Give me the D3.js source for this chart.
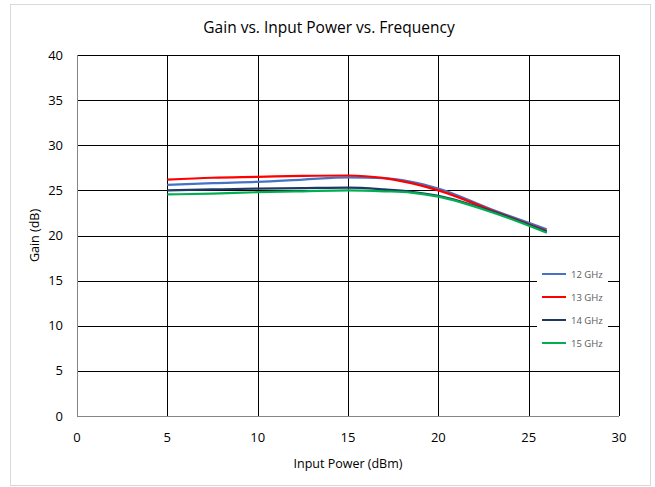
<!DOCTYPE html>
<html>
<head>
<meta charset="utf-8">
<script src="https://cdn.jsdelivr.net/npm/d3@7/dist/d3.min.js"></script>
<style>
  body { margin: 0; background: #fff; }
  text { font-family: "Open Sans", sans-serif; }
</style>
</head>
<body>
<svg id="chart" width="655" height="487"></svg>
<script>
// data
const inputPower = [5, 7.5, 10, 12.5, 15, 17, 18.5, 20, 23, 26];
const gain12 = [25.6, 25.8, 25.95, 26.2, 26.45, 26.35, 25.95, 25.2, 22.85, 20.7];
const gain13 = [26.2, 26.4, 26.5, 26.6, 26.65, 26.35, 25.8, 25.0, 22.75, 20.5];
const gain14 = [25.0, 25.1, 25.2, 25.25, 25.3, 25.1, 24.85, 24.4, 22.65, 20.4];
const gain15 = [24.55, 24.65, 24.8, 24.9, 25.0, 24.9, 24.75, 24.3, 22.55, 20.3];
const seriesNames = ["12 GHz", "13 GHz", "14 GHz", "15 GHz"];
const seriesColors = ["#4472C4", "#FF0000", "#203864", "#00B050"];
const xTicks = [0, 5, 10, 15, 20, 25, 30];
const yTicks = [0, 5, 10, 15, 20, 25, 30, 35, 40];

const series = [gain12, gain13, gain14, gain15].map((g, i) => ({
  name: seriesNames[i],
  color: seriesColors[i],
  values: g.map((v, j) => ({ x: inputPower[j], y: v })),
}));

const svg = d3.select("#chart");
const margin = { left: 77, top: 55, right: 36, bottom: 71 };
const width = 655 - margin.left - margin.right;
const height = 487 - margin.top - margin.bottom;

// outer chart border
svg.append("rect")
  .attr("x", 10.5).attr("y", 4.5)
  .attr("width", 640).attr("height", 481)
  .attr("fill", "#fff")
  .attr("stroke", "#d9d9d9");

const g = svg.append("g").attr("transform", `translate(${margin.left},${margin.top})`);

const x = d3.scaleLinear().domain([0, 30]).range([0, width]);
const y = d3.scaleLinear().domain([0, 40]).range([height, 0]);

// gridlines
g.selectAll(".hgrid")
  .data(yTicks.filter((d) => d > 0))
  .join("line")
  .attr("x1", 0).attr("x2", width)
  .attr("y1", (d) => Math.round(y(d)) + 0.5)
  .attr("y2", (d) => Math.round(y(d)) + 0.5)
  .attr("stroke", "#000").attr("stroke-width", 1);

g.selectAll(".vgrid")
  .data(xTicks.filter((d) => d > 0))
  .join("line")
  .attr("x1", (d) => Math.round(x(d)) + 0.5)
  .attr("x2", (d) => Math.round(x(d)) + 0.5)
  .attr("y1", 0).attr("y2", height)
  .attr("stroke", "#000").attr("stroke-width", 1);

// axes lines (gray)
g.append("line")
  .attr("x1", 0.5).attr("x2", 0.5).attr("y1", 0).attr("y2", height)
  .attr("stroke", "#868686");
g.append("line")
  .attr("x1", 0).attr("x2", width)
  .attr("y1", height + 0.5).attr("y2", height + 0.5)
  .attr("stroke", "#868686");

// tick labels
g.selectAll(".xlab")
  .data(xTicks)
  .join("text")
  .attr("x", (d) => x(d))
  .attr("y", height + 26)
  .attr("text-anchor", "middle")
  .attr("font-size", 13)
  .attr("fill", "#000")
  .text((d) => d);

g.selectAll(".ylab")
  .data(yTicks)
  .join("text")
  .attr("x", -14)
  .attr("y", (d) => y(d) + 4.5)
  .attr("text-anchor", "end")
  .attr("font-size", 13)
  .attr("fill", "#000")
  .text((d) => d);

// axis titles
svg.append("text")
  .attr("x", margin.left + width / 2)
  .attr("y", 468)
  .attr("text-anchor", "middle")
  .attr("font-size", 12.5)
  .text("Input Power (dBm)");

svg.append("text")
  .attr("transform", `translate(39,${margin.top + height / 2}) rotate(-90)`)
  .attr("text-anchor", "middle")
  .attr("font-size", 12.5)
  .text("Gain (dB)");

svg.append("text")
  .attr("x", 329)
  .attr("y", 33)
  .attr("text-anchor", "middle")
  .attr("font-size", 15.5)
  .text("Gain vs. Input Power vs. Frequency");

// curves
const line = d3.line()
  .x((d) => x(d.x))
  .y((d) => y(d.y))
  .curve(d3.curveMonotoneX);

g.selectAll(".series")
  .data(series)
  .join("path")
  .attr("fill", "none")
  .attr("stroke", (d) => d.color)
  .attr("stroke-width", 2.2)
  .attr("d", (d) => line(d.values));

// legend
const legend = svg.append("g").attr("transform", "translate(537,262)");
legend.append("rect")
  .attr("width", 71).attr("height", 92)
  .attr("fill", "#fff");
const items = legend.selectAll(".item")
  .data(series)
  .join("g")
  .attr("transform", (d, i) => `translate(0,${12 + i * 23})`);
items.append("line")
  .attr("x1", 5).attr("x2", 29)
  .attr("stroke", (d) => d.color)
  .attr("stroke-width", 2);
items.append("text")
  .attr("x", 34).attr("y", 3.5)
  .attr("font-size", 9.5)
  .attr("fill", "#595959")
  .text((d) => d.name);
</script>
</body>
</html>
